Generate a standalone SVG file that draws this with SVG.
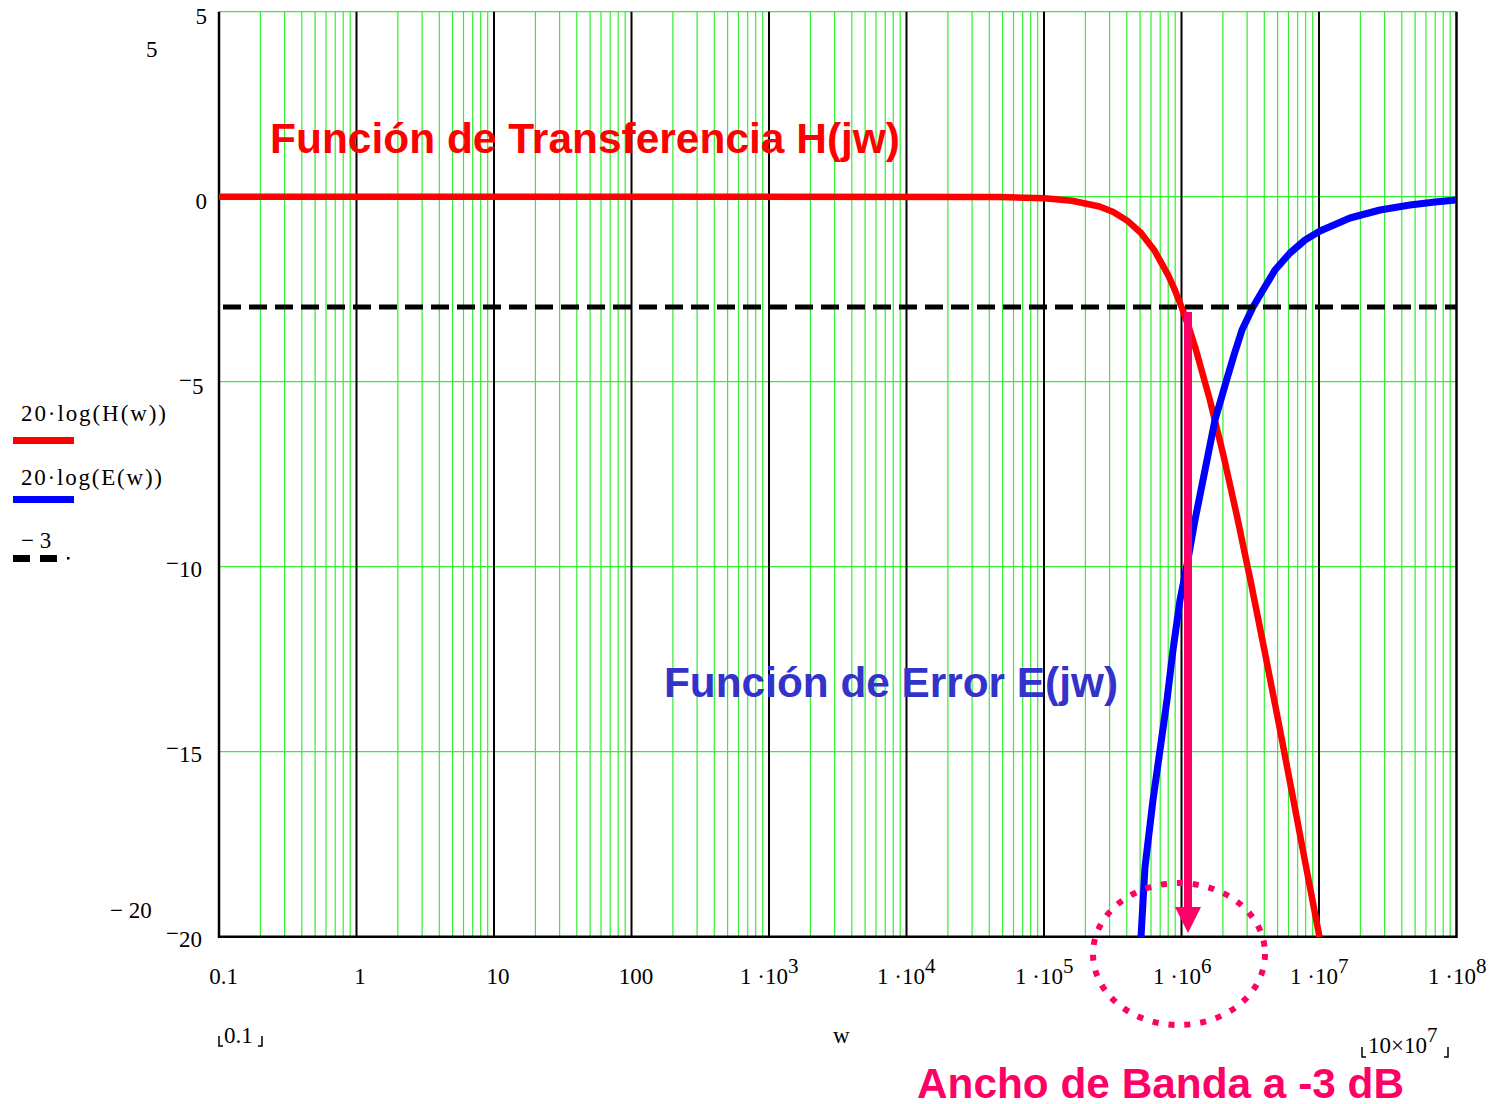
<svg xmlns="http://www.w3.org/2000/svg" width="1499" height="1104" viewBox="0 0 1499 1104">
<style>
.ax{font-family:"Liberation Serif","Times New Roman",serif;font-size:23px;fill:#000}
.ttl{font-family:"Liberation Sans",Arial,sans-serif;font-size:42px;font-weight:bold}
.minor{stroke:#33ee33;stroke-width:1.2;fill:none}
.major{stroke:#000;stroke-width:2;fill:none}
.brk{stroke:#000;stroke-width:1.5;fill:none}
</style>
<rect width="1499" height="1104" fill="#fff"/>
<g id="grid">
<path class="minor" d="M260.4 11.7V936.7M284.6 11.7V936.7M301.8 11.7V936.7M315.1 11.7V936.7M326 11.7V936.7M335.2 11.7V936.7M343.2 11.7V936.7M350.2 11.7V936.7
M397.9 11.7V936.7M422.1 11.7V936.7M439.3 11.7V936.7M452.6 11.7V936.7M463.5 11.7V936.7M472.7 11.7V936.7M480.7 11.7V936.7M487.7 11.7V936.7
M535.4 11.7V936.7M559.6 11.7V936.7M576.8 11.7V936.7M590.1 11.7V936.7M601 11.7V936.7M610.2 11.7V936.7M618.2 11.7V936.7M625.2 11.7V936.7
M672.9 11.7V936.7M697.1 11.7V936.7M714.3 11.7V936.7M727.6 11.7V936.7M738.5 11.7V936.7M747.7 11.7V936.7M755.7 11.7V936.7M762.7 11.7V936.7
M810.4 11.7V936.7M834.6 11.7V936.7M851.8 11.7V936.7M865.1 11.7V936.7M876 11.7V936.7M885.2 11.7V936.7M893.2 11.7V936.7M900.2 11.7V936.7
M947.9 11.7V936.7M972.1 11.7V936.7M989.3 11.7V936.7M1002.6 11.7V936.7M1013.5 11.7V936.7M1022.7 11.7V936.7M1030.7 11.7V936.7M1037.7 11.7V936.7
M1085.4 11.7V936.7M1109.6 11.7V936.7M1126.8 11.7V936.7M1140.1 11.7V936.7M1151 11.7V936.7M1160.2 11.7V936.7M1168.2 11.7V936.7M1175.2 11.7V936.7
M1222.9 11.7V936.7M1247.1 11.7V936.7M1264.3 11.7V936.7M1277.6 11.7V936.7M1288.5 11.7V936.7M1297.7 11.7V936.7M1305.7 11.7V936.7M1312.7 11.7V936.7
M1360.4 11.7V936.7M1384.6 11.7V936.7M1401.8 11.7V936.7M1415.1 11.7V936.7M1426 11.7V936.7M1435.2 11.7V936.7M1443.2 11.7V936.7M1450.2 11.7V936.7
M219 11.7H1456.5M219 196.7H1456.5M219 381.7H1456.5M219 566.7H1456.5M219 751.7H1456.5"/>
<path class="major" d="M356.5 11.7V936.7M494 11.7V936.7M631.5 11.7V936.7M769 11.7V936.7M906.5 11.7V936.7M1044 11.7V936.7M1181.5 11.7V936.7M1319 11.7V936.7"/>
<path d="M219 11.7V936.7H1456.5V11.7" fill="none" stroke="#000" stroke-width="2.5"/>
</g>
<g id="axis-labels">
<text class="ax" x="207" y="24" text-anchor="end">5</text>
<text class="ax" x="207" y="209" text-anchor="end">0</text>
<text class="ax" x="179" y="388">−<tspan dy="6">5</tspan></text>
<text class="ax" x="166" y="571">−<tspan dy="6">10</tspan></text>
<text class="ax" x="166" y="756">−<tspan dy="6">15</tspan></text>
<text class="ax" x="166" y="941">−<tspan dy="6">20</tspan></text>
<text class="ax" x="146" y="57">5</text>
<text class="ax" x="110" y="918">− 20</text>
<text class="ax" x="223.5" y="984" text-anchor="middle">0.1</text>
<text class="ax" x="360" y="984" text-anchor="middle">1</text>
<text class="ax" x="498" y="984" text-anchor="middle">10</text>
<text class="ax" x="636" y="984" text-anchor="middle">100</text>
<text class="ax" x="740" y="984">1 ·10<tspan dy="-11" font-size="21">3</tspan></text>
<text class="ax" x="877" y="984">1 ·10<tspan dy="-11" font-size="21">4</tspan></text>
<text class="ax" x="1015" y="984">1 ·10<tspan dy="-11" font-size="21">5</tspan></text>
<text class="ax" x="1153" y="984">1 ·10<tspan dy="-11" font-size="21">6</tspan></text>
<text class="ax" x="1290" y="984">1 ·10<tspan dy="-11" font-size="21">7</tspan></text>
<text class="ax" x="1428" y="984">1 ·10<tspan dy="-11" font-size="21">8</tspan></text>
<text class="ax" x="833" y="1043">w</text>
<text class="ax" x="224" y="1043">0.1</text>
<path class="brk" d="M219 1036V1046H223M262 1036V1046H258"/>
<text class="ax" x="1368" y="1053">10×10<tspan dy="-11" font-size="21">7</tspan></text>
<path class="brk" d="M1362 1047V1057H1366M1448 1047V1057H1444"/>
</g>
<g id="legend">
<text class="ax" x="21" y="421" textLength="145" lengthAdjust="spacing">20·log(H(w))</text>
<rect x="13" y="437" width="61" height="7" fill="#ff0000"/>
<text class="ax" x="21" y="485" textLength="141" lengthAdjust="spacing">20·log(E(w))</text>
<rect x="13" y="496" width="61" height="7" fill="#0000ff"/>
<text class="ax" x="21" y="548">− 3</text>
<rect x="13" y="555" width="17" height="7" fill="#000"/>
<rect x="40" y="555" width="17" height="7" fill="#000"/>
<rect x="67" y="557" width="2.5" height="2.5" fill="#000"/>
</g>
<g id="curves" fill="none" stroke-linejoin="round">
<polyline id="H" stroke="#ff0000" stroke-width="6.5" points="219,196.7 1000,196.9 1044.5,198.3 1072,200.7 1099.5,206.5 1113.3,212 1127,220.4 1140.8,232.7 1154.5,250.5 1168.3,275.3 1175.1,290.6 1182,308.1 1188.9,327.6 1195.8,349.3 1209.5,398.5 1223.3,454.7 1237,516.3 1250.8,582 1264.5,650.5 1278.3,721 1292,792.7 1305.8,865.3 1319.5,937"/>
<polyline id="E" stroke="#0000ff" stroke-width="7" points="1141,937 1145,867 1153,800 1160,750 1167,700 1173,650 1180,600 1187,565 1195,520 1203,480 1215,420 1226,382 1234,355 1242,330 1253,307 1263,290 1275,270 1290,253 1305,240 1320,231 1350,218 1380,210 1410,205 1435,202 1456,200"/>
<line id="m3" x1="219" y1="307" x2="1456" y2="307" stroke="#000" stroke-width="5" stroke-dasharray="18 8" stroke-dashoffset="22"/>
</g>
<g id="connectors">
<line x1="1188" y1="312" x2="1188" y2="910" stroke="#ff0066" stroke-width="8"/>
<polygon points="1175,907 1201,907 1188,933" fill="#ff0066"/>
</g>
<g id="bandwidth-mark">
<ellipse cx="1179" cy="954" rx="86" ry="71" fill="none" stroke="#ff0066" stroke-width="6" stroke-dasharray="6 10"/>
</g>
<g id="titles">
<text class="ttl" x="270" y="153" fill="#ff0000" textLength="630" lengthAdjust="spacingAndGlyphs">Función de Transferencia H(jw)</text>
<text class="ttl" x="664" y="697" fill="#3333cc" textLength="454" lengthAdjust="spacingAndGlyphs">Función de Error E(jw)</text>
<text class="ttl" x="917" y="1098" fill="#ff0066" textLength="487" lengthAdjust="spacingAndGlyphs">Ancho de Banda a -3 dB</text>
</g>
</svg>
